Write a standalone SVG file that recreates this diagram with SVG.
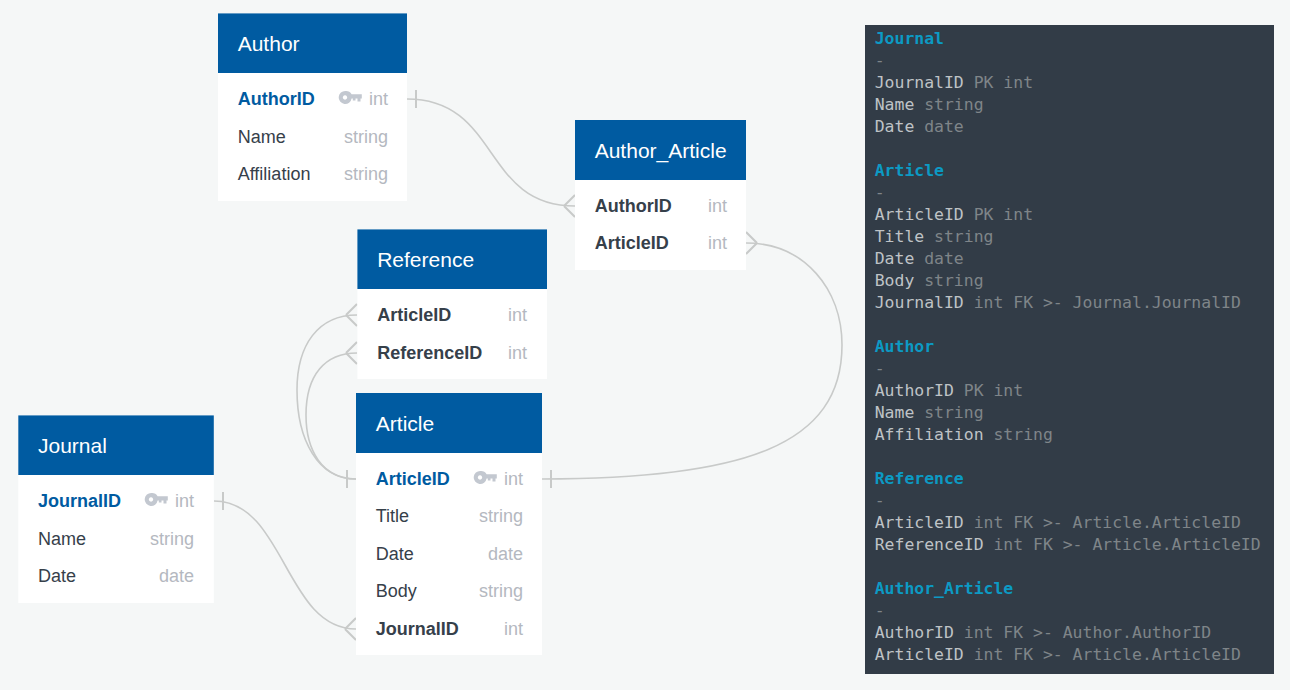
<svg xmlns="http://www.w3.org/2000/svg" width="1290" height="690" viewBox="0 0 1290 690">
<style>
.body{fill:#fff}
.head{fill:#005ba1}
.title{font:21px "Liberation Sans",Arial,sans-serif;fill:#fff}
.f{font:18px "Liberation Sans",Arial,sans-serif;fill:#36404a}
.b{font-weight:700}
.k{font-weight:700;fill:#005ba1}
.t{font:18px "Liberation Sans",Arial,sans-serif;fill:#b4b8c0;text-anchor:end}
.c{fill:none;stroke:#c8cac9;stroke-width:1.6}
.x{stroke-width:2}
.m{font:16.45px "DejaVu Sans Mono",monospace;fill:#bfc3c6}
.m .d{fill:#7f8589}
.m.h{fill:#0c9ac4;font-weight:700}
</style>
<defs>
<g id="key"><path fill="#c3c8d0" fill-rule="evenodd" d="M6.500 0a6.500 6.500 0 0 1 6.100 3.200H22.800v4.300h-1.300v3h-3v-3h-2v2h-2.700v-2h-1.200A6.500 6.500 0 1 1 6.500 0zM6 4.300a2.200 2.200 0 1 0 .01 0z"/></g>
</defs>
<rect width="1290" height="690" fill="#f5f7f7"/>
<g id="connectors" class="c">
<path d="M407 99C500 99 482 206 575 206"/><path class="x" d="M416 90V108M564 206L575 195M564 206L575 217"/>
<path d="M746 243C805 243 842 290 842 345C842 445 745 479 542 479"/><path class="x" d="M551 470V488M757 243L746 232M757 243L746 254"/>
<path d="M357 315C318 315 297 345 297 390C297 440 318 479 356 479"/><path class="x" d="M346 315L357 304M346 315L357 326"/>
<path d="M357 353C325 353 306 375 306 415C306 450 322 479 356 479"/><path class="x" d="M346 353L357 342M346 353L357 364M347 470V488"/>
<path d="M214 501C285 501 285 629 356 629"/><path class="x" d="M223 492V510M345 629L356 618M345 629L356 640"/>
</g>
<g id="author"><rect class="body" x="218" y="13.400" width="189" height="187.600"/><rect class="head" x="218" y="13.400" width="189" height="59.600"/>
<text class="title" x="237.700" y="51">Author</text>
<text class="f k" x="237.700" y="105">AuthorID</text><use href="#key" x="339" y="91"/><text class="t" x="388" y="105">int</text>
<text class="f" x="237.700" y="143">Name</text><text class="t" x="388" y="143">string</text>
<text class="f" x="237.700" y="180">Affiliation</text><text class="t" x="388" y="180">string</text></g>
<g id="author_article"><rect class="body" x="575" y="120" width="171" height="150"/><rect class="head" x="575" y="120" width="171" height="60"/>
<text class="title" x="594.700" y="158">Author_Article</text>
<text class="f b" x="594.700" y="212">AuthorID</text><text class="t" x="727" y="212">int</text>
<text class="f b" x="594.700" y="249">ArticleID</text><text class="t" x="727" y="249">int</text></g>
<g id="reference"><rect class="body" x="357.400" y="229.400" width="189.600" height="149.600"/><rect class="head" x="357.400" y="229.400" width="189.600" height="59.600"/>
<text class="title" x="377.200" y="267">Reference</text>
<text class="f b" x="377.200" y="321">ArticleID</text><text class="t" x="527" y="321">int</text>
<text class="f b" x="377.200" y="359">ReferenceID</text><text class="t" x="527" y="359">int</text></g>
<g id="article"><rect class="body" x="356" y="393" width="186" height="262"/><rect class="head" x="356" y="393" width="186" height="60"/>
<text class="title" x="375.800" y="431">Article</text>
<text class="f k" x="375.800" y="485">ArticleID</text><use href="#key" x="474" y="471"/><text class="t" x="523" y="485">int</text>
<text class="f" x="375.800" y="522">Title</text><text class="t" x="523" y="522">string</text>
<text class="f" x="375.800" y="560">Date</text><text class="t" x="523" y="560">date</text>
<text class="f" x="375.800" y="597">Body</text><text class="t" x="523" y="597">string</text>
<text class="f b" x="375.800" y="635">JournalID</text><text class="t" x="523" y="635">int</text></g>
<g id="journal"><rect class="body" x="18.300" y="415.400" width="195.500" height="187.600"/><rect class="head" x="18.300" y="415.400" width="195.500" height="59.600"/>
<text class="title" x="38" y="453">Journal</text>
<text class="f k" x="38" y="507">JournalID</text><use href="#key" x="145" y="493"/><text class="t" x="194" y="507">int</text>
<text class="f" x="38" y="545">Name</text><text class="t" x="194" y="545">string</text>
<text class="f" x="38" y="582">Date</text><text class="t" x="194" y="582">date</text></g>
<g id="code"><rect x="865" y="25" width="409" height="649" fill="#323c47"/>
<text class="m h" x="874.700" y="44">Journal</text>
<text class="m" x="874.700" y="66"><tspan class="d">-</tspan></text>
<text class="m" x="874.700" y="88">JournalID <tspan class="d">PK int</tspan></text>
<text class="m" x="874.700" y="110">Name <tspan class="d">string</tspan></text>
<text class="m" x="874.700" y="132">Date <tspan class="d">date</tspan></text>
<text class="m h" x="874.700" y="176">Article</text>
<text class="m" x="874.700" y="198"><tspan class="d">-</tspan></text>
<text class="m" x="874.700" y="220">ArticleID <tspan class="d">PK int</tspan></text>
<text class="m" x="874.700" y="242">Title <tspan class="d">string</tspan></text>
<text class="m" x="874.700" y="264">Date <tspan class="d">date</tspan></text>
<text class="m" x="874.700" y="286">Body <tspan class="d">string</tspan></text>
<text class="m" x="874.700" y="308">JournalID <tspan class="d">int FK &gt;- Journal.JournalID</tspan></text>
<text class="m h" x="874.700" y="352">Author</text>
<text class="m" x="874.700" y="374"><tspan class="d">-</tspan></text>
<text class="m" x="874.700" y="396">AuthorID <tspan class="d">PK int</tspan></text>
<text class="m" x="874.700" y="418">Name <tspan class="d">string</tspan></text>
<text class="m" x="874.700" y="440">Affiliation <tspan class="d">string</tspan></text>
<text class="m h" x="874.700" y="484">Reference</text>
<text class="m" x="874.700" y="506"><tspan class="d">-</tspan></text>
<text class="m" x="874.700" y="528">ArticleID <tspan class="d">int FK &gt;- Article.ArticleID</tspan></text>
<text class="m" x="874.700" y="550">ReferenceID <tspan class="d">int FK &gt;- Article.ArticleID</tspan></text>
<text class="m h" x="874.700" y="594">Author_Article</text>
<text class="m" x="874.700" y="616"><tspan class="d">-</tspan></text>
<text class="m" x="874.700" y="638">AuthorID <tspan class="d">int FK &gt;- Author.AuthorID</tspan></text>
<text class="m" x="874.700" y="660">ArticleID <tspan class="d">int FK &gt;- Article.ArticleID</tspan></text>
</g>
</svg>
